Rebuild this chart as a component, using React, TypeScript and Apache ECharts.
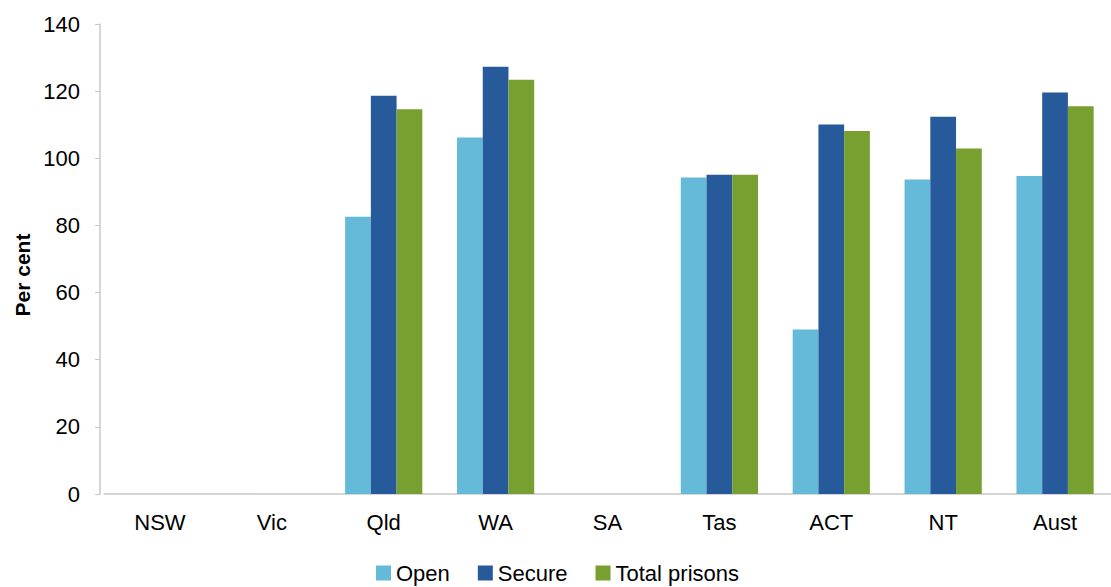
import React, { useEffect, useRef } from "react";
import * as echarts from "echarts";

const categories = ["NSW", "Vic", "Qld", "WA", "SA", "Tas", "ACT", "NT", "Aust"];
const openValues = [null, null, 82.6, 106.2, null, 94.3, 49.0, 93.7, 94.7];
const secureValues = [null, null, 118.6, 127.3, null, 95.1, 110.1, 112.4, 119.6];
const totalValues = [null, null, 114.6, 123.4, null, 95.1, 108.1, 102.9, 115.5];
const yTicks = { min: 0, max: 140, interval: 20 };

const FONT = "'Liberation Sans', Arial, sans-serif";

export default function App() {
  const ref = useRef<HTMLDivElement>(null);
  useEffect(() => {
    if (!ref.current) return;
    const chart = echarts.init(ref.current, null, { renderer: "svg" });
    chart.setOption({
      animation: false,
      textStyle: { fontFamily: FONT },
      grid: { left: 104, top: 24, width: 1012, bottom: 93, containLabel: false },
      legend: {
        left: 371,
        top: 557,
        itemWidth: 15,
        itemHeight: 15,
        itemGap: 28,
        icon: "rect",
        textStyle: { fontFamily: FONT, fontSize: 22, color: "#000", lineHeight: 22 },
        data: ["Open", "Secure", "Total prisons"],
      },
      graphic: [
        {
          type: "text",
          x: 22,
          y: 275,
          rotation: Math.PI / 2,
          style: {
            text: "Per cent",
            fontFamily: FONT,
            fontSize: 21,
            fontWeight: "bold",
            fill: "#000",
            align: "center",
            verticalAlign: "middle",
          },
        },
      ],
      xAxis: {
        type: "category",
        data: categories,
        axisLine: { show: true, lineStyle: { color: "#c8c8c8", width: 1.5 } },
        axisTick: { show: false },
        axisLabel: { fontFamily: FONT, fontSize: 22, color: "#000", margin: 17 },
      },
      yAxis: {
        type: "value",
        min: yTicks.min,
        max: yTicks.max,
        interval: yTicks.interval,
        offset: 4,
        splitLine: { show: false },
        axisLine: { show: true, lineStyle: { color: "#c8c8c8", width: 1.5 } },
        axisTick: { show: true, length: 5, lineStyle: { color: "#c8c8c8" } },
        axisLabel: { fontFamily: FONT, fontSize: 22, color: "#000", margin: 20 },
      },
      series: [
        {
          name: "Open",
          type: "bar",
          data: openValues,
          barGap: "0%",
          barCategoryGap: "31%",
          itemStyle: { color: "#65BADA" },
        },
        {
          name: "Secure",
          type: "bar",
          data: secureValues,
          barGap: "0%",
          barCategoryGap: "31%",
          itemStyle: { color: "#265A9A" },
        },
        {
          name: "Total prisons",
          type: "bar",
          data: totalValues,
          barGap: "0%",
          barCategoryGap: "31%",
          itemStyle: { color: "#78A030" },
        },
      ],
    });
    return () => chart.dispose();
  }, []);
  return (
    <div
      ref={ref}
      style={{ position: "fixed", left: 0, top: 0, width: 1111, height: 587, background: "#fff" }}
    />
  );
}
